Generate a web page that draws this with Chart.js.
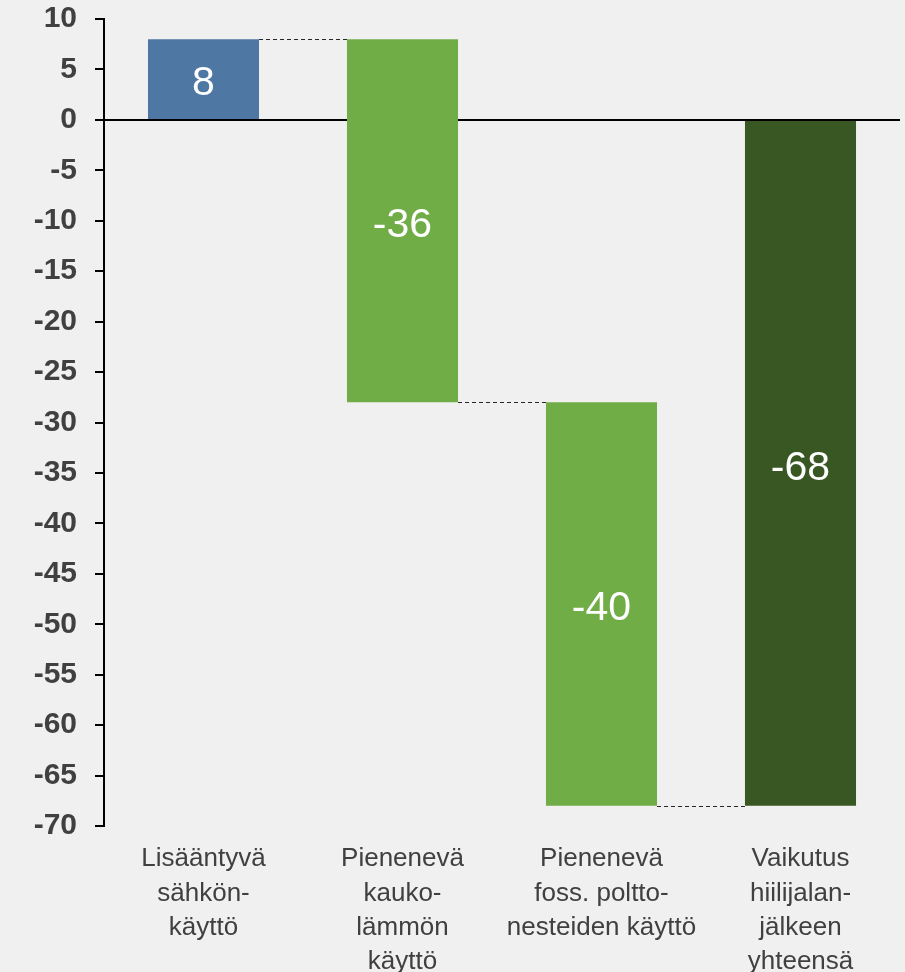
<!DOCTYPE html>
<html>
<head>
<meta charset="utf-8">
<script src="https://cdn.jsdelivr.net/npm/chart.js@4"></script>
<style>
  html, body { margin: 0; padding: 0; background: #f0f0f0; }
  #wrap { width: 905px; height: 972px; position: relative; }
</style>
</head>
<body>
<div id="wrap"><canvas id="waterfall"></canvas></div>
<script>
// Data
const categories = [
  ["Lisääntyvä", "sähkön-", "käyttö"],
  ["Pienenevä", "kauko-", "lämmön", "käyttö"],
  ["Pienenevä", "foss. poltto-", "nesteiden käyttö"],
  ["Vaikutus", "hiilijalan-", "jälkeen", "yhteensä"]
];
const changes = [8, -36, -40];
const total = -68;
const barColors = ["#4f77a3", "#70ad47", "#70ad47", "#385723"];
const yTicks = [-70, -65, -60, -55, -50, -45, -40, -35, -30, -25, -20, -15, -10, -5, 0, 5, 10];

// Floating ranges: each change starts where the previous one ended, total starts from 0
const ranges = [];
const values = [];
let level = 0;
changes.forEach(c => {
  ranges.push([level, level + c]);
  values.push(c);
  level += c;
});
ranges.push([0, total]);
values.push(total);

const FONT = "'Liberation Sans', Arial, sans-serif";

// Values written inside the bars
const valueLabels = {
  id: "valueLabels",
  afterDatasetsDraw(chart) {
    const ctx = chart.ctx;
    const meta = chart.getDatasetMeta(0);
    ctx.save();
    ctx.fillStyle = "#ffffff";
    ctx.font = "41px " + FONT;
    ctx.textAlign = "center";
    ctx.textBaseline = "middle";
    meta.data.forEach((bar, i) => {
      const mid = (bar.y + bar.base) / 2;
      ctx.fillText(String(values[i]), bar.x, mid + 5);
    });
    ctx.restore();
  }
};

// Dashed connectors between bars
const connectors = {
  id: "connectors",
  afterDatasetsDraw(chart) {
    const ctx = chart.ctx;
    const meta = chart.getDatasetMeta(0);
    const y = chart.scales.y;
    ctx.save();
    ctx.strokeStyle = "#262626";
    ctx.lineWidth = 1;
    ctx.setLineDash([4, 3]);
    for (let i = 0; i < meta.data.length - 1; i++) {
      const a = meta.data[i];
      const b = meta.data[i + 1];
      const py = Math.round(y.getPixelForValue(ranges[i][1])) + 0.5;
      ctx.beginPath();
      ctx.moveTo(a.x + a.width / 2, py);
      ctx.lineTo(b.x - b.width / 2, py);
      ctx.stroke();
    }
    ctx.restore();
  }
};

new Chart(document.getElementById("waterfall"), {
  type: "bar",
  data: {
    labels: categories,
    datasets: [{
      data: ranges,
      backgroundColor: barColors,
      borderWidth: 0,
      borderSkipped: false,
      categoryPercentage: 1,
      barPercentage: 0.558
    }]
  },
  options: {
    responsive: true,
    maintainAspectRatio: false,
    animation: false,
    layout: { padding: { top: 19, right: 5, bottom: 0, left: 0 } },
    plugins: {
      legend: { display: false },
      tooltip: { enabled: false }
    },
    scales: {
      x: {
        grid: { display: false },
        border: { display: false },
        ticks: {
          color: "#404040",
          padding: 8,
          maxRotation: 0,
          autoSkip: false,
          font: { family: FONT, size: 26, lineHeight: 1.32 }
        },
        afterFit(scale) { scale.height = 146; }
      },
      y: {
        min: -70,
        max: 10,
        afterBuildTicks(scale) {
          scale.ticks = yTicks.map(v => ({ value: v }));
        },
        afterFit(scale) {
          scale.width = 104;
          scale.paddingTop = 0;
          scale.paddingBottom = 0;
        },
        border: { display: true, color: "#000000", width: 2 },
        grid: {
          color: c => (c.tick && c.tick.value === 0 ? "#000000" : "rgba(0,0,0,0)"),
          tickColor: "#000000",
          lineWidth: 2,
          tickLength: 9,
          drawOnChartArea: true
        },
        ticks: {
          color: "#404040",
          padding: 18,
          font: { family: FONT, size: 30, weight: "bold" }
        }
      }
    }
  },
  plugins: [valueLabels, connectors]
});
</script>
</body>
</html>
